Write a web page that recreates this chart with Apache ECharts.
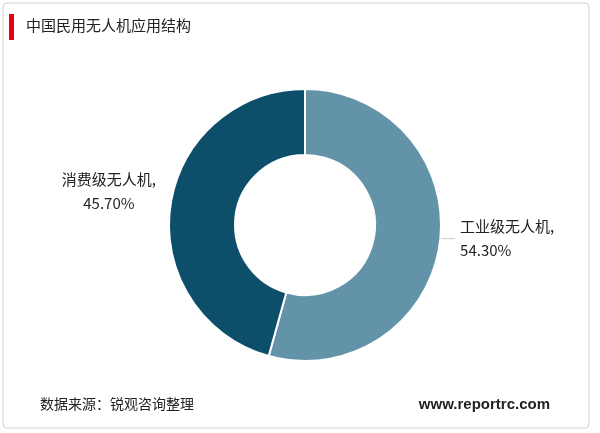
<!DOCTYPE html><html><head><meta charset="utf-8"><script src="https://cdn.jsdelivr.net/npm/echarts@6/dist/echarts.min.js"></script>
<style>html,body{margin:0;padding:0;background:#fff}#c{width:600px;height:433px}</style></head><body><div id="c"></div><script>
const categories=['工业级无人机','消费级无人机'];
const values=[54.30,45.70];
const labels=['工业级无人机,\n54.30%','消费级无人机,\n45.70%'];
const chart=echarts.init(document.getElementById('c'));
chart.setOption({
 graphic:[
  {type:'rect',shape:{x:3,y:3,width:586,height:425,r:4},style:{fill:'none',stroke:'#d0d0d0',lineWidth:1}},
  {type:'rect',shape:{x:9,y:14,width:5,height:26},style:{fill:'#e60012'}},
  {type:'text',left:26,top:18,style:{text:'中国民用无人机应用结构',font:'15px "Noto Sans CJK SC"',fill:'#222'}},
  {type:'text',left:40,top:397,style:{text:'数据来源：锐观咨询整理',font:'14px "Noto Sans CJK SC"',fill:'#222'}},
  {type:'text',right:50,top:397,style:{text:'www.reportrc.com',font:'bold 15px Arial, "Liberation Sans"',fill:'#222'}}
 ],
 series:[{type:'pie',center:[305,225],radius:[70,136],startAngle:90,clockwise:true,
  itemStyle:{borderColor:'#fff',borderWidth:2},
  label:{formatter:p=>labels[p.dataIndex],fontSize:15,color:'#222',lineHeight:24,fontFamily:'"Noto Sans CJK SC"'},
  labelLine:{length:-35,length2:50,lineStyle:{color:'#ccc'}},
  labelLayout:p=>p.dataIndex===0?{}:{dx:-41,dy:-20,align:'center'},
  data:categories.map((n,i)=>({name:n,value:values[i],itemStyle:{color:['#6393a8','#0d4f6b'][i]},
   labelLine:i===1?{show:false}:undefined}))
 }]
});
</script></body></html>
